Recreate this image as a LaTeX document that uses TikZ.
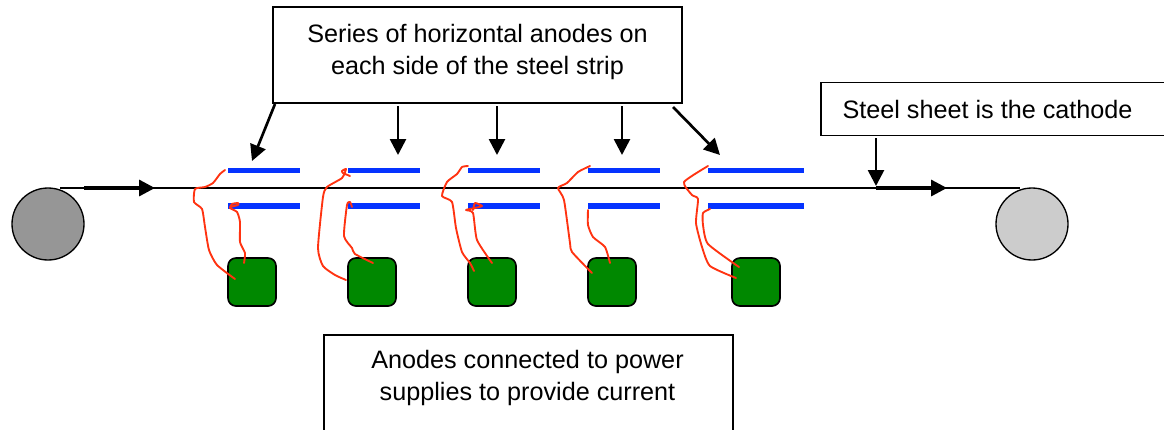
\documentclass[tikz,border=0pt]{standalone}
\usepackage{fontspec}
\setmainfont{Liberation Sans}
\usetikzlibrary{arrows.meta}
\definecolor{AnodeClr}{RGB}{5,51,255}
\definecolor{SupplyClr}{RGB}{0,136,0}
\definecolor{WireClr}{RGB}{255,51,17}
\definecolor{InRollClr}{RGB}{150,150,150}
\definecolor{OutRollClr}{RGB}{204,204,204}
\tikzset{
  labelbox/.style={draw=black,line width=1pt,fill=white,inner sep=0pt},
  labeltext/.style={inner sep=0pt,align=center,font=\fontsize{18.9}{24}\selectfont},
  anode/.style={fill=AnodeClr,inner sep=0pt,minimum height=4.3pt},
  supply/.style={draw=black,line width=1.25pt,fill=SupplyClr,rounded corners=6pt,inner sep=0pt,minimum size=36pt},
  roll/.style={circle,draw=black,line width=1pt,inner sep=0pt,minimum size=54pt},
  pointer/.style={-{Triangle[length=12pt,width=12pt]},line width=2pt},
  feed/.style={-{Triangle[length=12pt,width=12pt]},line width=2.5pt},
  wire/.style={WireClr,line width=1.4pt,line join=round,line cap=round},
}
\newcommand{\wirepath}[1]{\draw[wire] plot[smooth,tension=.35] coordinates {#1};}
\begin{document}
\begin{tikzpicture}[x=.75pt,y=-.75pt]
\useasboundingbox (0,0) rectangle (1164,429);

% Rolls and the strip between them.
\node[roll,fill=InRollClr] (inroll) at (48,224) {};
\node[roll,fill=OutRollClr] (outroll) at (1032,224) {};
\coordinate (stripa) at (60,188);
\coordinate (stripb) at (84,188);
\coordinate (stripc) at (155,188);
\coordinate (stripd) at (876,188);
\coordinate (stripe) at (947,188);
\coordinate (stripf) at (1020,188);
\draw[line width=1pt] (stripa) -- (stripf);
\draw[feed] (stripb) -- (stripc);
\draw[feed] (stripd) -- (stripe);

% Anodes above and below the strip.
\foreach \name/\xc/\len in {a/264/54,b/384/54,c/504/54,d/624/54,e/756/72}{
  \node[anode,minimum width=\len pt] (upper\name) at (\xc,170.5) {};
  \node[anode,minimum width=\len pt] (lower\name) at (\xc,206) {};
}

% Power supplies.
\foreach \name/\xc in {a/252,b/372,c/492,d/612,e/756}{
  \node[supply] (supply\name) at (\xc,282) {};
}

% Wires, drawn by hand.
\wirepath{(225,170) (220,174) (213,183) (205,187) (195,189) (194,202) (202,209) (205,227) (209,250) (217,265) (235,279)}
\wirepath{(244,263) (245,253) (240,242) (240,222) (237,212) (230,208) (232,204) (238,203) (238,205) (230,207)}
\wirepath{(350,176) (343,173) (342,171) (346,169) (342,178) (327,187) (323,197) (318,248) (323,266) (335,275) (346,280)}
\wirepath{(352,207) (350,202) (347,205) (344,236) (352,248) (355,254) (373,263)}
\wirepath{(468,166) (462,167) (457,174) (447,182) (442,196) (452,202) (456,228) (462,252) (470,263) (474,271)}
\wirepath{(492,263) (477,240) (473,213) (466,210) (475,208) (482,206) (475,203) (473,210)}
\wirepath{(590,166) (578,172) (567,183) (558,188) (564,200) (570,243) (572,252) (592,273)}
\wirepath{(588,210) (588,225) (593,237) (605,247) (610,263)}
\wirepath{(708,166) (684,182) (692,195) (698,199) (696,223) (702,247) (710,266) (736,278)}
\wirepath{(710,209) (703,213) (703,225) (708,244) (739,267)}

% Labels.
\node[labelbox,minimum width=306.75pt,minimum height=72pt] (serieslabel) at (477.5,55) {};
\node[labeltext] (seriestext) at (477.5,51.5) {Series of horizontal anodes on\\each side of the steel strip};
\node[labelbox,minimum width=270pt,minimum height=40pt] (cathodelabel) at (1001,109) {};
\node[labeltext] (cathodetext) at (987.5,109.5) {Steel sheet is the cathode};
\node[labelbox,minimum width=306.75pt,minimum height=75pt] (powerlabel) at (528.5,385) {};
\node[labeltext] (powertext) at (527.5,378) {Anodes connected to power\\supplies to provide current};

% Pointers from the labels.
\coordinate (tipa) at (252,161);
\coordinate (taila) at (275,104);
\coordinate (tipb) at (398,155);
\coordinate (tailb) at (398,106);
\coordinate (tipc) at (497,155);
\coordinate (tailc) at (497,106);
\coordinate (tipd) at (622,155);
\coordinate (taild) at (622,106);
\coordinate (tipe) at (720,155);
\coordinate (taile) at (673,107);
\coordinate (tipf) at (876,186);
\coordinate (tailf) at (876,138);
\foreach \name in {a,b,c,d,e,f}{
  \draw[pointer] (tail\name) -- (tip\name);
}
\end{tikzpicture}
\end{document}
